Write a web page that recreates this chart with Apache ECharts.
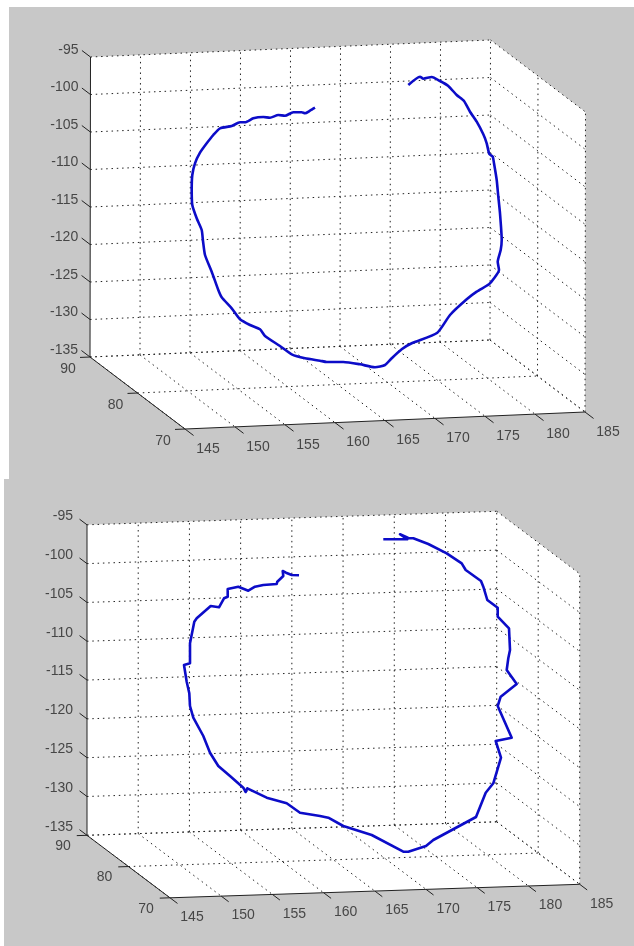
<!DOCTYPE html>
<html><head><meta charset="utf-8">
<style>html,body{margin:0;padding:0;background:#fff}#c{width:634px;height:946px}</style>
<script src="https://cdn.jsdelivr.net/npm/echarts@6/dist/echarts.min.js"></script>
</head><body><div id="c"></div>
<script>
// Tick labels of the three axes (same in both panels)
const xTicks = [145,150,155,160,165,170,175,180,185];
const yTicks = [70,80,90];
const zTicks = [-135,-130,-125,-120,-115,-110,-105,-100,-95];

// Curves: projected position on the page
const topCurveH = [315,310,305,301.7,293.3,285,278.3,270,263.3,253.3,245,240,231.7,220,213.3,206.7,200,195,192.3,191.7,192.3,196.7,201.7,203,205,211.7,218.3,221.7,231.7,240,250,260,265,280,291.7,305,320,326.7,343.3,360,375,385,391.7,401.7,411.7,437.3,450,466.7,476.7,489,493.3,499,497.7,500.7,501.7,500,498.3,496.7,494,492.7,489.3,486.7,483.3,476.7,470,464,456.7,448.3,440,431.7,423.3,420,408.3];
const topCurveV = [107.7,110.7,113.3,112.3,112.3,115.7,115,117.7,117,118.3,122.3,122.3,126,128.3,135,143.3,152.7,163.3,175,190,205,218.3,230,241,255,271.7,290,297.3,308.3,319.3,325,329.3,336,346,354.3,358.3,360.7,362,362,364.3,367.3,365,358.3,349.3,343.3,332.7,315,299.3,291.7,284.3,279.3,270,261.7,250,240,213.3,196.7,180,163.3,156.7,154,143.3,134.3,121.7,111.7,101,95,86,81,77,78.7,76.7,85];
const bottomCurveH = [299,291.7,286,282.7,283.3,277.3,276.7,263.3,255,248.3,238.3,227.7,227.7,224,219,210.7,196.7,194.3,190,190,184,186.7,189.3,190,193.3,203.3,210,218.3,220,230,243.3,245.7,247.3,266.7,286.7,300,320,328.3,343.3,371.7,403.3,408.3,426,433.3,476,485.7,493.3,501,495.7,511.7,497.7,496.7,500.7,516.7,506.7,508.3,510,509,497.7,497.7,487.3,483.3,481,465.7,461.7,446.7,428.3,413.3,408.3,400,407.3,383.3];
const bottomCurveV = [575.3,575,572.7,571,576,581.7,584,585,586.7,590.7,586.7,589,596.7,598.3,607.3,606,618.3,621.7,643.3,663.3,665,681.7,693.3,706,717.7,736,752.7,766,765.3,776,787.7,792,788.3,797.7,803.3,812.7,816,817.7,826,835,851.7,851.7,846,840,817,792.7,783.3,757.7,741,737.7,706,705,696.7,684,670,658.3,650,628.3,616.7,607.7,600,586.7,581,570,563.3,553.3,544,538.3,538,534.3,539.3,539.3];

// Layout of each panel
const panels = [
  {o:[90,357],   ex:[400,-17],    ey:[95,72],   ez:[0.5,-300],
   bg:[[9,7],[634,7],[634,479],[9,479]],
   zOff:[-12,-7], yOff:[-22,12], xOff:[23,20], smooth:0.2,
   h:topCurveH, v:topCurveV},
  {o:[87,835.3], ex:[409.7,-13.5], ey:[83,62.5], ez:[0,-310.5],
   bg:[[4,479],[634,479],[634,946],[4,946]],
   zOff:[-14,-8.5], yOff:[-24,11], xOff:[22,19.5], smooth:false,
   h:bottomCurveH, v:bottomCurveV}
];

const GRID = '#222222', AXIS = '#222222', TEXT = '#262626', BLUE = '#0c0cc8', GREY = '#c8c8c8';
const FONT = 'Liberation Sans';

function projector(p){
  return (x,y,z)=>{
    const a=(x-145)/40, b=(90-y)/20, c=(z+135)/40;
    return [p.o[0]+a*p.ex[0]+b*p.ey[0]+c*p.ez[0],
            p.o[1]+a*p.ex[1]+b*p.ey[1]+c*p.ez[1]];
  };
}
function poly(pts,color,z){
  return {type:'custom',coordinateSystem:'cartesian2d',silent:true,clip:false,z,
    data:[pts.flat()],
    renderItem:(params,api)=>{
      const points=[]; for(let i=0;i<pts.length;i++) points.push(api.coord([api.value(2*i),api.value(2*i+1)]));
      return {type:'polygon',shape:{points},style:{fill:color}};
    }};
}
function seg(a,b,dotted,z){
  return {type:'line',data:[a,b],symbol:'none',silent:true,clip:false,z,animation:false,
    lineStyle:{color:dotted?GRID:AXIS,width:1,type:dotted?[1.5,3.8]:'solid',cap:'butt'}};
}
function labels(items,offset,align,z){
  return {type:'scatter',symbolSize:1,silent:true,clip:false,z,itemStyle:{color:'rgba(0,0,0,0)'},
    data:items.map(it=>({value:it.p,name:String(it.t)})),
    label:{show:true,position:'inside',formatter:d=>d.name,color:TEXT,fontFamily:FONT,fontSize:14,
      align,verticalAlign:'middle',offset}};
}

const series=[];
panels.forEach(p=>{
  const P=projector(p);
  series.push(poly(p.bg,GREY,1));
  series.push(poly([P(145,90,-95),P(185,90,-95),P(185,70,-95),P(185,70,-135),P(145,70,-135),P(145,90,-135)],'#ffffff',2));
  // back wall
  xTicks.forEach(x=>{ if(x>145) series.push(seg(P(x,90,-135),P(x,90,-95),true,3)); });
  zTicks.forEach(z=>series.push(seg(P(145,90,z),P(185,90,z),true,3)));
  // right wall
  yTicks.forEach(y=>{ if(y<90) series.push(seg(P(185,y,-135),P(185,y,-95),true,3)); });
  zTicks.forEach(z=>series.push(seg(P(185,90,z),P(185,70,z),true,3)));
  // floor
  xTicks.forEach(x=>series.push(seg(P(x,90,-135),P(x,70,-135),true,3)));
  yTicks.forEach(y=>{ if(y>70) series.push(seg(P(145,y,-135),P(185,y,-135),true,3)); });
  // solid axes
  series.push(seg(P(145,90,-135),P(145,90,-95),false,4));
  series.push(seg(P(145,90,-135),P(145,70,-135),false,4));
  series.push(seg(P(145,70,-135),P(185,70,-135),false,4));
  // tick marks
  zTicks.forEach(z=>series.push(seg(P(145,90,z),P(145,91.8,z),false,4)));
  yTicks.forEach(y=>series.push(seg(P(145,y,-135),P(144,y,-135),false,4)));
  xTicks.forEach(x=>series.push(seg(P(x,70,-135),P(x,68.2,-135),false,4)));
  // tick labels
  series.push(labels(zTicks.map(z=>({p:P(145,90,z),t:z})),p.zOff,'right',6));
  series.push(labels(yTicks.map(y=>({p:P(145,y,-135),t:y})),p.yOff,'center',6));
  series.push(labels(xTicks.map(x=>({p:P(x,70,-135),t:x})),p.xOff,'center',6));
  // curve
  series.push({type:'line',data:p.h.map((h,i)=>[h,p.v[i]]),symbol:'none',silent:true,clip:false,z:5,smooth:p.smooth,
    lineStyle:{color:BLUE,width:2.6,join:'round'}});
});

const chart=echarts.init(document.getElementById('c'),null,{renderer:'canvas',width:634,height:946});
chart.setOption({
  animation:false,backgroundColor:'#ffffff',
  grid:{left:0,right:0,top:0,bottom:0},
  xAxis:{type:'value',min:0,max:634,show:false},
  yAxis:{type:'value',min:0,max:946,inverse:true,show:false},
  tooltip:{show:false},legend:{show:false},
  series
});
</script></body></html>
